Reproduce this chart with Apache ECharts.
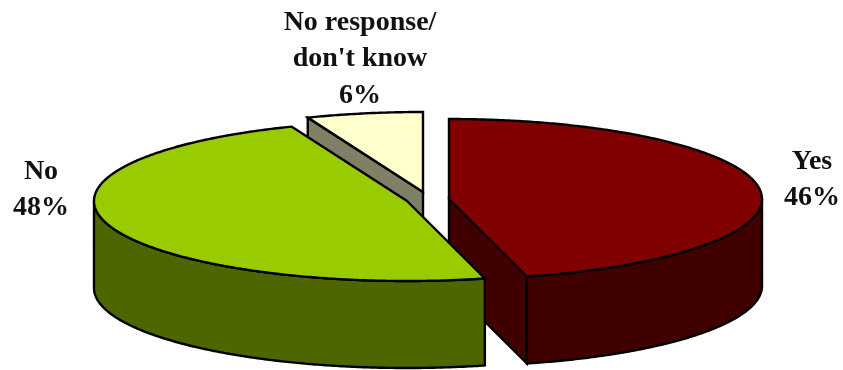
<!DOCTYPE html>
<html><head><meta charset="utf-8">
<style>html,body{margin:0;padding:0;background:#fff}#c{width:843px;height:370px}</style>
<script src="https://cdn.jsdelivr.net/npm/echarts@6/dist/echarts.min.js"></script>
</head><body><div id="c"></div>
<script>
const categories = ['Yes', 'No', 'No response/\ndon\'t know'];
const shares = [46, 48, 6];
const topColors = ['#800000', '#99cc00', '#ffffcc'];
const wallColors = ['#400000', '#4d6600', '#808066'];
const drawOrder = [0, 2, 1];
const centersX = [449, 407, 423];
const centersY = [199, 201, 192];
const labelX = [812, 41, 360];
const labelY = [180, 190, 59];

const RX = 313, RY = 80, DEPTH = 87;
const total = shares.reduce((a, b) => a + b, 0);
const rad = d => d * Math.PI / 180;

function rim(cx, cy, deg) {
  return [cx + RX * Math.sin(rad(deg)), cy - RY * Math.cos(rad(deg))];
}
function arc(cx, cy, from, to) {
  const pts = [];
  const n = Math.max(2, Math.ceil(Math.abs(to - from) * 2));
  for (let i = 0; i <= n; i++) pts.push(rim(cx, cy, from + (to - from) * i / n));
  return pts;
}
const down = p => [p[0], p[1] + DEPTH];
const stroke = { stroke: '#000', lineWidth: 2.4, lineJoin: 'miter', miterLimit: 4 };

function renderItem(params, api) {
  const i = params.dataIndex;
  const value = api.value(0);
  let before = 0;
  for (let k = 0; k < i; k++) before += shares[k];
  const start = before / total * 360;
  const end = (before + value) / total * 360;
  const cx = centersX[i], cy = centersY[i];
  const z = drawOrder.indexOf(i) * 10;
  const kids = [];
  const poly = (points, fill, zz) => kids.push({
    type: 'polygon', z2: z + zz, shape: { points },
    style: Object.assign({ fill }, stroke)
  });
  const faceAt = deg => {
    const c = [cx, cy], r = rim(cx, cy, deg);
    poly([c, r, down(r), down(c)], wallColors[i], 1);
  };
  if (Math.sin(rad(end)) > 1e-6) faceAt(end);
  if (Math.sin(rad(start)) < -1e-6) faceAt(start);
  const a = Math.max(start, 90), b = Math.min(end, 270);
  if (b > a) {
    const t = arc(cx, cy, a, b);
    poly(t.concat(t.slice().reverse().map(down)), wallColors[i], 2);
  }
  poly([[cx, cy]].concat(arc(cx, cy, start, end)), topColors[i], 3);
  kids.push({
    type: 'text', z2: 100,
    style: {
      x: labelX[i], y: labelY[i],
      text: categories[i] + '\n' + Math.round(value / total * 100) + '%',
      font: 'bold 28px "Liberation Serif"', lineHeight: 36.5,
      fill: '#111', align: 'center', verticalAlign: 'middle'
    }
  });
  return { type: 'group', children: kids };
}

const chart = echarts.init(document.getElementById('c'), null, { renderer: 'canvas' });
chart.setOption({
  animation: false,
  backgroundColor: '#ffffff',
  series: [{
    type: 'custom',
    coordinateSystem: 'none',
    renderItem,
    data: shares.map(v => [v]),
    clip: false
  }]
});
</script></body></html>
